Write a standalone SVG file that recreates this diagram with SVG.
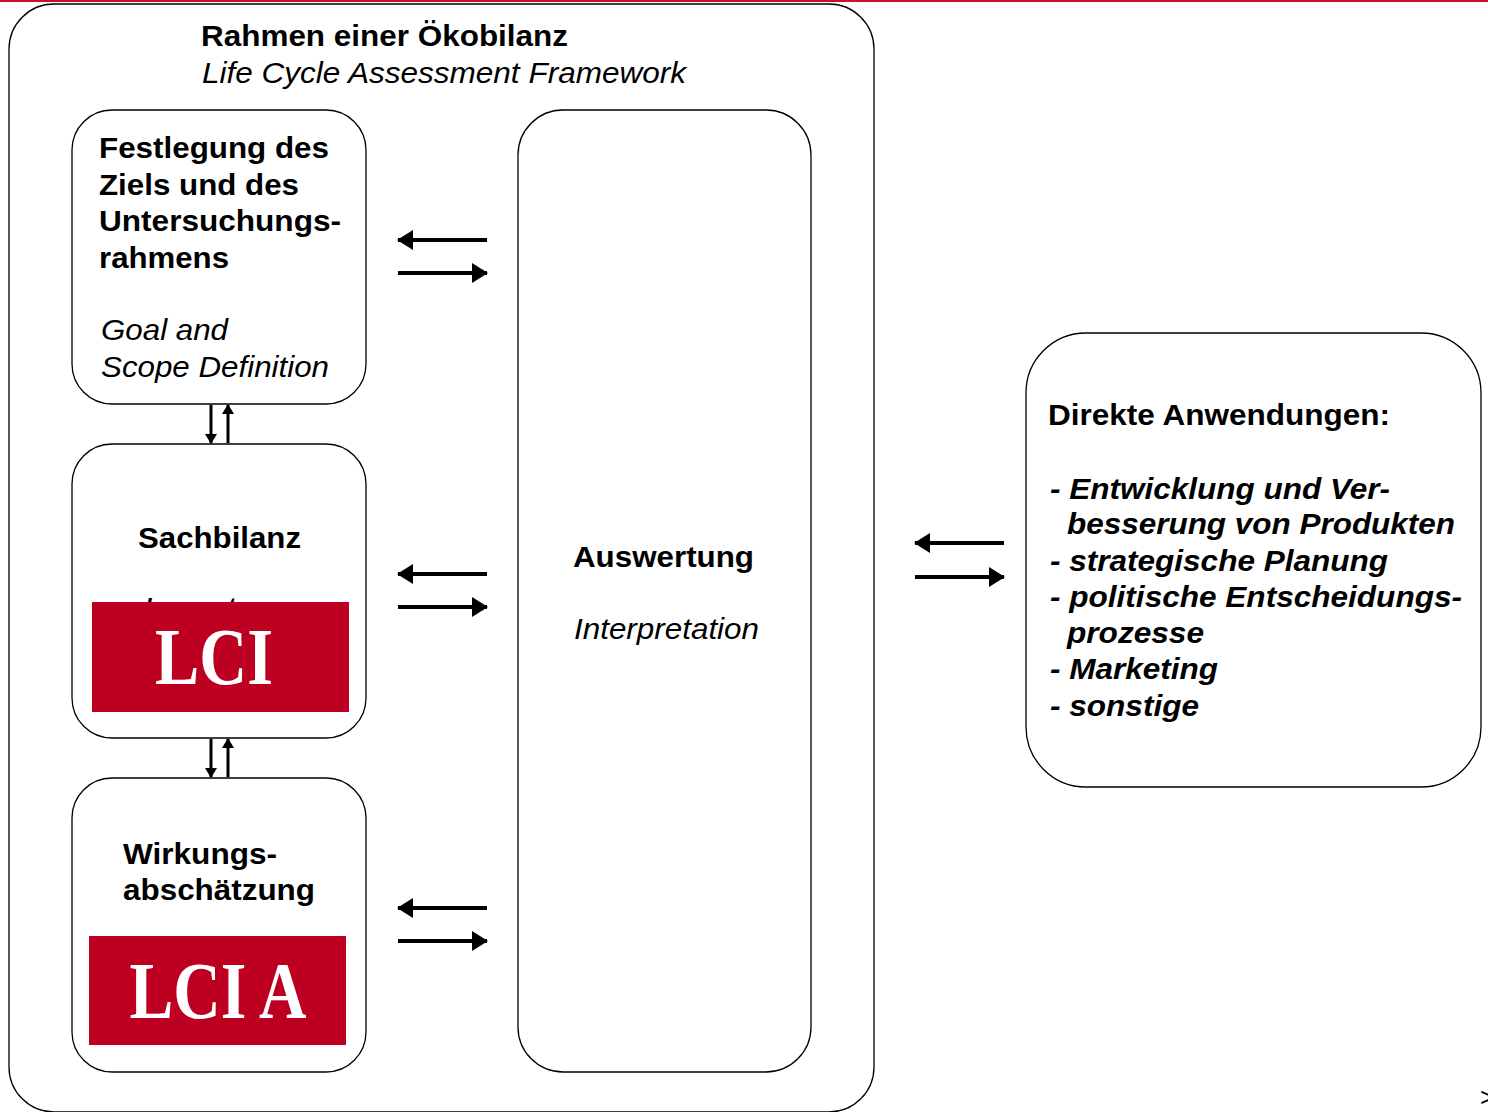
<svg xmlns="http://www.w3.org/2000/svg" width="1488" height="1112" viewBox="0 0 1488 1112">
<style>
.box{fill:#fff;stroke:#000;stroke-width:1.3}
.b{font-family:"Liberation Sans",Arial,sans-serif;font-weight:bold;font-size:29px;fill:#000}
.i{font-family:"Liberation Sans",Arial,sans-serif;font-style:italic;font-size:29px;fill:#000}
.bi{font-family:"Liberation Sans",Arial,sans-serif;font-weight:bold;font-style:italic;font-size:29px;fill:#000}
.red{fill:#bd0022}
.lci{font-family:"Liberation Serif","Times New Roman",serif;font-weight:bold;font-size:80px;fill:#fff}
.arr{stroke:#000;stroke-width:4;fill:none}
.varr{stroke:#000;stroke-width:3;fill:none}
</style>
<defs>
<marker id="ah" markerUnits="userSpaceOnUse" markerWidth="16" markerHeight="20" refX="15" refY="10" orient="auto">
<path d="M0,0 L16,10 L0,20 Z" fill="#000"/>
</marker>
<marker id="vh" markerUnits="userSpaceOnUse" markerWidth="10" markerHeight="12" refX="9" refY="6" orient="auto">
<path d="M0,0 L10,6 L0,12 Z" fill="#000"/>
</marker>
</defs>
<rect x="0" y="0" width="1488" height="2" fill="#c8102e"/>
<g id="frame">
<rect class="box" x="9" y="4" width="865" height="1108" rx="45"/>
<text class="b" x="201" y="46" textLength="367" lengthAdjust="spacingAndGlyphs">Rahmen einer Ökobilanz</text>
<text class="i" x="202" y="83" textLength="484" lengthAdjust="spacingAndGlyphs">Life Cycle Assessment Framework</text>
</g>
<g id="goal">
<rect class="box" x="72" y="110" width="294" height="294" rx="40"/>
<text class="b" x="99" y="158" textLength="230" lengthAdjust="spacingAndGlyphs">Festlegung des</text>
<text class="b" x="99" y="195" textLength="200" lengthAdjust="spacingAndGlyphs">Ziels und des</text>
<text class="b" x="99" y="231" textLength="242" lengthAdjust="spacingAndGlyphs">Untersuchungs-</text>
<text class="b" x="99" y="268" textLength="130" lengthAdjust="spacingAndGlyphs">rahmens</text>
<text class="i" x="101" y="340" textLength="127" lengthAdjust="spacingAndGlyphs">Goal and</text>
<text class="i" x="101" y="377" textLength="228" lengthAdjust="spacingAndGlyphs">Scope Definition</text>
</g>
<g id="inventory">
<rect class="box" x="72" y="444" width="294" height="294" rx="40"/>
<text class="b" x="138" y="548" textLength="163" lengthAdjust="spacingAndGlyphs">Sachbilanz</text>
<text class="i" x="143" y="618" textLength="140" lengthAdjust="spacingAndGlyphs">Inventory</text>
<rect class="red" x="92" y="602" width="257" height="110"/>
<text class="lci" x="214" y="684" text-anchor="middle" textLength="118" lengthAdjust="spacingAndGlyphs">LCI</text>
</g>
<g id="impact">
<rect class="box" x="72" y="778" width="294" height="294" rx="40"/>
<text class="b" x="123" y="864" textLength="154" lengthAdjust="spacingAndGlyphs">Wirkungs-</text>
<text class="b" x="123" y="900" textLength="192" lengthAdjust="spacingAndGlyphs">abschätzung</text>
<rect class="red" x="89" y="936" width="257" height="109"/>
<text class="lci" x="218" y="1018" text-anchor="middle" textLength="177" lengthAdjust="spacingAndGlyphs">LCI A</text>
</g>
<g id="interpretation">
<rect class="box" x="518" y="110" width="293" height="962" rx="45"/>
<text class="b" x="573" y="567" textLength="181" lengthAdjust="spacingAndGlyphs">Auswertung</text>
<text class="i" x="574" y="639" textLength="185" lengthAdjust="spacingAndGlyphs">Interpretation</text>
</g>
<g id="applications">
<rect class="box" x="1026" y="333" width="455" height="454" rx="60"/>
<text class="b" x="1048" y="425" textLength="342" lengthAdjust="spacingAndGlyphs">Direkte Anwendungen:</text>
<text class="bi" x="1050" y="499" textLength="340" lengthAdjust="spacingAndGlyphs">- Entwicklung und Ver-</text>
<text class="bi" x="1067" y="534" textLength="388" lengthAdjust="spacingAndGlyphs">besserung von Produkten</text>
<text class="bi" x="1050" y="571" textLength="338" lengthAdjust="spacingAndGlyphs">- strategische Planung</text>
<text class="bi" x="1050" y="607" textLength="412" lengthAdjust="spacingAndGlyphs">- politische Entscheidungs-</text>
<text class="bi" x="1067" y="643" textLength="137" lengthAdjust="spacingAndGlyphs">prozesse</text>
<text class="bi" x="1050" y="679" textLength="168" lengthAdjust="spacingAndGlyphs">- Marketing</text>
<text class="bi" x="1050" y="716" textLength="149" lengthAdjust="spacingAndGlyphs">- sonstige</text>
</g>
<g id="connectors">
<line class="arr" x1="487" y1="240" x2="398" y2="240" marker-end="url(#ah)"/>
<line class="arr" x1="398" y1="273" x2="487" y2="273" marker-end="url(#ah)"/>
<line class="arr" x1="487" y1="574" x2="398" y2="574" marker-end="url(#ah)"/>
<line class="arr" x1="398" y1="607" x2="487" y2="607" marker-end="url(#ah)"/>
<line class="arr" x1="487" y1="908" x2="398" y2="908" marker-end="url(#ah)"/>
<line class="arr" x1="398" y1="941" x2="487" y2="941" marker-end="url(#ah)"/>
<line class="arr" x1="1004" y1="543" x2="915" y2="543" marker-end="url(#ah)"/>
<line class="arr" x1="915" y1="577" x2="1004" y2="577" marker-end="url(#ah)"/>
<line class="varr" x1="211" y1="405" x2="211" y2="443" marker-end="url(#vh)"/>
<line class="varr" x1="228" y1="443" x2="228" y2="405" marker-end="url(#vh)"/>
<line class="varr" x1="211" y1="739" x2="211" y2="777" marker-end="url(#vh)"/>
<line class="varr" x1="228" y1="777" x2="228" y2="739" marker-end="url(#vh)"/>
</g>
<text x="1480" y="1106" font-family="Liberation Sans, Arial, sans-serif" font-size="26" fill="#000">&gt;</text>
</svg>
